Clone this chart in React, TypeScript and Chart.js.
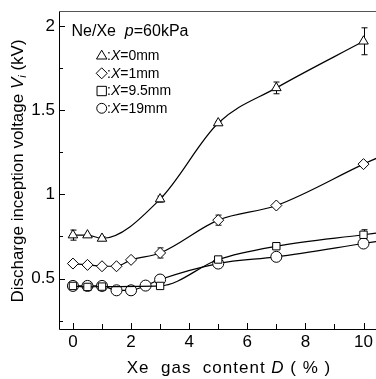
import React, { useEffect, useRef } from "react";
import { Chart, registerables } from "chart.js";

Chart.register(...registerables);

// ---- data ----
const xTri = [0, 0.5, 1, 3, 5, 7, 10];
const yTri = [0.758, 0.758, 0.738, 0.972, 1.424, 1.633, 1.91];
const eTri = [0.03, 0.0, 0.01, 0.018, 0.01, 0.035, 0.08];

const xDia = [0, 0.5, 1, 1.5, 2, 3, 5, 7, 10, 10.45];
const yDia = [0.589, 0.581, 0.573, 0.573, 0.611, 0.652, 0.847, 0.934, 1.18, 1.215];
const eDia = [0, 0, 0, 0, 0, 0.03, 0.03, 0, 0, 0];

const xSq = [0, 0.5, 1, 3, 5, 7, 10, 10.45];
const ySq = [0.456, 0.45, 0.452, 0.456, 0.613, 0.692, 0.76, 0.77];
const eSq = [0, 0, 0, 0, 0, 0, 0.03, 0];

const xCir = [0, 0.5, 1, 1.5, 2, 2.5, 3, 5, 7, 10, 10.45];
const yCir = [0.456, 0.456, 0.456, 0.43, 0.43, 0.458, 0.494, 0.589, 0.629, 0.708, 0.72];
const eCir = [0, 0, 0, 0, 0, 0, 0, 0, 0, 0, 0];

const xMajor = [0, 2, 4, 6, 8, 10];
const xMinor = [1, 3, 5, 7, 9];
const yMajor = [0.5, 1, 1.5, 2];
const yMinor = [0.25, 0.75, 1.25, 1.75];

const legendTitle = ["Ne/Xe  ", "p", "=60kPa"];
const legendItems = ["=0mm", "=1mm", "=9.5mm", "=19mm"];
const styles = ["triangle", "rectRot", "rect", "circle"];

const FONT = "'Liberation Sans', Arial, sans-serif";

function mk(xs: number[], ys: number[], style: string) {
  return {
    data: xs.map((x, i) => ({ x, y: ys[i] })),
    pointStyle: style,
    pointRadius: xs.map((x) => (x > 10 ? 0 : style === "rect" ? 5.2 : 5.5)),
    pointBackgroundColor: "#ffffff",
    pointBorderColor: "#000000",
    pointBorderWidth: 1,
    borderColor: "#000000",
    borderWidth: 1.2,
    cubicInterpolationMode: "monotone" as const,
    fill: false,
  };
}

const errs = [eTri, eDia, eSq, eCir];

function drawSymbol(ctx: CanvasRenderingContext2D, style: string, x: number, y: number, r: number) {
  ctx.save();
  ctx.fillStyle = "#fff";
  ctx.strokeStyle = "#000";
  ctx.lineWidth = 1;
  ctx.beginPath();
  if (style === "triangle") {
    ctx.moveTo(x, y - r);
    ctx.lineTo(x + r * 0.95, y + r * 0.6);
    ctx.lineTo(x - r * 0.95, y + r * 0.6);
    ctx.closePath();
  } else if (style === "rectRot") {
    ctx.moveTo(x, y - r);
    ctx.lineTo(x + r, y);
    ctx.lineTo(x, y + r);
    ctx.lineTo(x - r, y);
    ctx.closePath();
  } else if (style === "rect") {
    ctx.rect(x - r * 0.85, y - r * 0.85, r * 1.7, r * 1.7);
  } else {
    ctx.arc(x, y, r * 0.9, 0, Math.PI * 2);
  }
  ctx.fill();
  ctx.stroke();
  ctx.restore();
}

function drawParts(ctx: CanvasRenderingContext2D, parts: [string, string][], x: number, y: number) {
  let cx = x;
  for (const [t, f] of parts) {
    ctx.font = f;
    ctx.fillText(t, cx, y);
    cx += ctx.measureText(t).width;
  }
  return cx;
}

function widthOf(ctx: CanvasRenderingContext2D, parts: [string, string][]) {
  let w = 0;
  for (const [t, f] of parts) {
    ctx.font = f;
    w += ctx.measureText(t).width;
  }
  return w;
}

const decorPlugin = {
  id: "decor",
  beforeDatasetsDraw(chart: any) {
    const { ctx, scales } = chart;
    const xs = scales.x;
    const ys = scales.y;
    ctx.save();
    ctx.strokeStyle = "#000";
    ctx.lineWidth = 1;
    chart.data.datasets.forEach((ds: any, di: number) => {
      ds.data.forEach((p: any, i: number) => {
        const e = errs[di][i];
        if (!e) return;
        const px = Math.round(xs.getPixelForValue(p.x)) + 0.5;
        const top = ys.getPixelForValue(p.y + e);
        const bot = ys.getPixelForValue(p.y - e);
        ctx.beginPath();
        ctx.moveTo(px, top);
        ctx.lineTo(px, bot);
        ctx.moveTo(px - 3, top);
        ctx.lineTo(px + 3, top);
        ctx.moveTo(px - 3, bot);
        ctx.lineTo(px + 3, bot);
        ctx.stroke();
      });
    });
    ctx.restore();
  },
  afterDraw(chart: any) {
    const { ctx, chartArea, scales } = chart;
    const xs = scales.x;
    const ys = scales.y;
    const { left, right, top, bottom } = chartArea;
    ctx.save();
    ctx.strokeStyle = "#000";
    ctx.lineWidth = 1;
    ctx.beginPath();
    ctx.moveTo(left + 0.5, top);
    ctx.lineTo(left + 0.5, bottom + 0.5);
    ctx.lineTo(right, bottom + 0.5);
    ctx.stroke();
    ctx.strokeStyle = "#555";
    ctx.beginPath();
    ctx.moveTo(left, top + 0.5);
    ctx.lineTo(right, top + 0.5);
    ctx.stroke();
    ctx.strokeStyle = "#000";
    ctx.beginPath();
    for (const v of xMajor) {
      const px = Math.round(xs.getPixelForValue(v)) + 0.5;
      ctx.moveTo(px, bottom);
      ctx.lineTo(px, bottom - 6);
    }
    for (const v of xMinor) {
      const px = Math.round(xs.getPixelForValue(v)) + 0.5;
      ctx.moveTo(px, bottom);
      ctx.lineTo(px, bottom - 5);
    }
    for (const v of yMajor) {
      const py = Math.round(ys.getPixelForValue(v)) + 0.5;
      ctx.moveTo(left, py);
      ctx.lineTo(left + 6, py);
    }
    for (const v of yMinor) {
      const py = Math.round(ys.getPixelForValue(v)) + 0.5;
      ctx.moveTo(left, py);
      ctx.lineTo(left + 4, py);
    }
    ctx.stroke();

    ctx.fillStyle = "#000";
    ctx.textBaseline = "middle";
    ctx.textAlign = "left";
    drawParts(
      ctx,
      [
        [legendTitle[0], `16px ${FONT}`],
        [legendTitle[1], `italic 16px ${FONT}`],
        [legendTitle[2], `16px ${FONT}`],
      ],
      71.5,
      32
    );
    const rowY = [55.7, 73.3, 91, 108.3];
    legendItems.forEach((t, i) => {
      drawSymbol(ctx, styles[i], 101.7, rowY[i], 5.5);
      drawParts(
        ctx,
        [
          [":", `14px ${FONT}`],
          ["X", `italic 14px ${FONT}`],
          [t, `14px ${FONT}`],
        ],
        107,
        rowY[i] + 0.5
      );
    });

    // x title
    (ctx as any).letterSpacing = "1px";
    const xParts: [string, string][] = [
      ["Xe  gas  content ", `17px ${FONT}`],
      ["D", `italic 17px ${FONT}`],
      [" ( % )", `17px ${FONT}`],
    ];
    const w = widthOf(ctx, xParts);
    drawParts(ctx, xParts, 229 - w / 2, 368);
    (ctx as any).letterSpacing = "0px";

    // y title
    ctx.save();
    ctx.translate(18, 171);
    ctx.rotate(-Math.PI / 2);
    const yParts: [string, string][] = [
      ["Discharge inception voltage ", `17px ${FONT}`],
      ["V", `italic 17px ${FONT}`],
    ];
    const wy = widthOf(ctx, yParts);
    ctx.font = `italic 11px ${FONT}`;
    const wi = ctx.measureText("i").width;
    ctx.font = `17px ${FONT}`;
    const wk = ctx.measureText(" (kV)").width;
    const total = wy + wi + wk;
    let cx = drawParts(ctx, yParts, -total / 2, 0);
    ctx.font = `italic 11px ${FONT}`;
    ctx.fillText("i", cx, 5);
    cx += wi;
    ctx.font = `17px ${FONT}`;
    ctx.fillText(" (kV)", cx, 0);
    ctx.restore();
    ctx.restore();
  },
};

export default function App() {
  const ref = useRef<HTMLCanvasElement | null>(null);
  useEffect(() => {
    document.body.style.margin = "0";
    const canvas = ref.current!;
    const chart = new Chart(canvas, {
      type: "line",
      data: {
        datasets: [
          mk(xTri, yTri, "triangle"),
          mk(xDia, yDia, "rectRot"),
          mk(xSq, ySq, "rect"),
          mk(xCir, yCir, "circle"),
        ] as any,
      },
      options: {
        animation: false,
        responsive: false,
        layout: { autoPadding: false, padding: { top: 11, right: 0, left: 0, bottom: 0 } },
        plugins: { legend: { display: false }, tooltip: { enabled: false } },
        scales: {
          x: {
            type: "linear",
            min: -0.48,
            max: 10.43,
            grid: { display: false, drawTicks: false },
            border: { display: false },
            afterBuildTicks: (s: any) => {
              s.ticks = xMajor.map((v) => ({ value: v }));
            },
            afterFit: (s: any) => {
              s.height = 50;
              s.paddingLeft = 0;
              s.paddingRight = 0;
            },
            ticks: {
              color: "#000",
              font: { family: FONT, size: 17 },
              padding: 3,
              maxRotation: 0,
              autoSkip: false,
              callback: (v: any) => String(v),
            },
          },
          y: {
            type: "linear",
            min: 0.2,
            max: 2.09,
            grid: { display: false, drawTicks: false },
            border: { display: false },
            afterBuildTicks: (s: any) => {
              s.ticks = yMajor.map((v) => ({ value: v }));
            },
            afterFit: (s: any) => {
              s.width = 59;
              s.paddingTop = 0;
              s.paddingBottom = 0;
            },
            ticks: {
              color: "#000",
              font: { family: FONT, size: 17 },
              padding: 4,
              autoSkip: false,
              callback: (v: any) => String(v),
            },
          },
        },
      },
      plugins: [decorPlugin],
    });
    return () => chart.destroy();
  }, []);
  return (
    <div style={{ width: 376, height: 379 }}>
      <canvas ref={ref} width={376} height={379} style={{ display: "block" }} />
    </div>
  );
}
